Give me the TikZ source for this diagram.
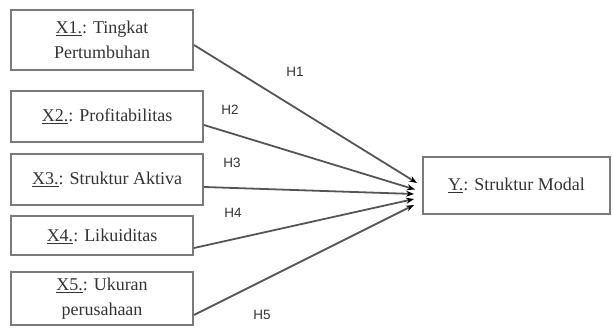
\documentclass[tikz,border=0pt]{standalone}
\usepackage{fontspec}
\setmainfont{Liberation Serif}
\newfontfamily\lblfont{Liberation Sans}
\usetikzlibrary{arrows.meta}
\definecolor{boxgray}{HTML}{7A7A7A}
\definecolor{linegray}{HTML}{555555}
\definecolor{txtgray}{HTML}{333333}
\begin{document}
\begin{tikzpicture}[x=1pt,y=-1pt,
  varbox/.style={draw=boxgray,line width=2pt,rectangle,inner sep=0pt,align=center,
    font=\fontsize{18}{25}\selectfont,text=txtgray},
  link/.style={draw=linegray,line width=1.8pt,-{Stealth[length=8pt,width=6pt,black]}},
  hlab/.style={font=\lblfont\fontsize{13.5}{14}\selectfont,text=txtgray}]
\useasboundingbox (0,0) rectangle (613,328);
\node[varbox,minimum width=182pt,minimum height=60pt] (x1) at (102,40) {\underline{X1.}: Tingkat\\Pertumbuhan};
\node[varbox,minimum width=192pt,minimum height=51pt] (x2) at (107,116.5) {\underline{X2.}: Profitabilitas};
\node[varbox,minimum width=192pt,minimum height=51pt] (x3) at (107,179.5) {\underline{X3.}: Struktur Aktiva};
\node[varbox,minimum width=182pt,minimum height=39pt] (x4) at (102,236) {\underline{X4.}: Likuiditas};
\node[varbox,minimum width=182pt,minimum height=53pt] (x5) at (102,298.5) {\underline{X5.}: Ukuran\\perusahaan};
\node[varbox,minimum width=187pt,minimum height=57pt] (y) at (516.5,185.5) {\underline{Y.}: Struktur Modal};
\draw[link] ([yshift=-5pt]x1.east) -- ([xshift=-5pt,yshift=2.5pt]y.west);
\draw[link] ([yshift=-8.5pt]x2.east) -- ([xshift=-7pt,yshift=-4pt]y.west);
\draw[link] ([yshift=-7.5pt]x3.east) -- ([xshift=-8pt,yshift=-8.5pt]y.west);
\draw[link] ([yshift=-12pt]x4.east) -- ([xshift=-8pt,yshift=-13.5pt]y.west);
\draw[link] ([yshift=-16.5pt]x5.east) -- ([xshift=-8pt,yshift=-19.5pt]y.west);
\node[hlab] (h1) at (295,72) {H1};
\node[hlab] (h2) at (230,110) {H2};
\node[hlab] (h3) at (232,163) {H3};
\node[hlab] (h4) at (233,213) {H4};
\node[hlab] (h5) at (262,315) {H5};
\end{tikzpicture}
\end{document}
